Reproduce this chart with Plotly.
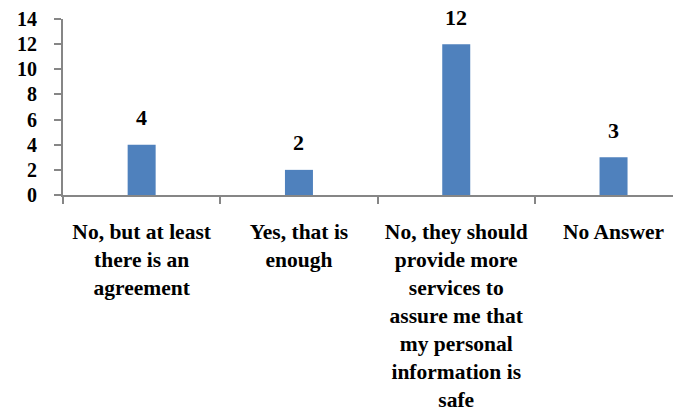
import plotly.graph_objects as go

categories = [
    "No, but at least<br>there is an<br>agreement",
    "Yes, that is<br>enough",
    "No, they should<br>provide more<br>services to<br>assure me that<br>my personal<br>information is<br>safe",
    "No Answer",
]
values = [4, 2, 12, 3]
y_ticks = [0, 2, 4, 6, 8, 10, 12, 14]

FONT = "Liberation Serif, Times New Roman, serif"
AXIS = "#868686"

fig = go.Figure()
fig.add_trace(go.Bar(
    x=categories, y=values, width=0.178,
    marker=dict(color="#4F81BD", line=dict(width=0)),
))

for c, v in zip(categories, values):
    fig.add_annotation(
        x=c, y=v, text=f"<b>{v}</b>", showarrow=False,
        yanchor="middle", yshift=27,
        font=dict(family=FONT, size=22, color="black"),
    )

fig.update_layout(
    width=686, height=413,
    margin=dict(l=63, r=13, t=19, b=218, autoexpand=False),
    paper_bgcolor="white", plot_bgcolor="white",
    showlegend=False,
    font=dict(family=FONT, size=22, color="black"),
)
fig.update_xaxes(
    type="category", range=[-0.5, 3.378], automargin=False,
    showline=True, linecolor=AXIS, linewidth=2,
    ticks="outside", tickson="boundaries", ticklen=7, tickcolor=AXIS, tickwidth=2,
    showgrid=False, tickangle=0, ticklabelstandoff=16,
    tickfont=dict(family=FONT, size=21.5, color="black", weight="bold"),
)
fig.update_yaxes(
    range=[0, 14], tickvals=y_ticks, automargin=False,
    showline=True, linecolor=AXIS, linewidth=2,
    ticks="outside", ticklen=7, tickcolor=AXIS, tickwidth=2,
    showgrid=False, zeroline=False, ticklabelstandoff=13,
    tickfont=dict(family=FONT, size=20, color="black", weight="bold"),
)

fig.write_html("out.html")
